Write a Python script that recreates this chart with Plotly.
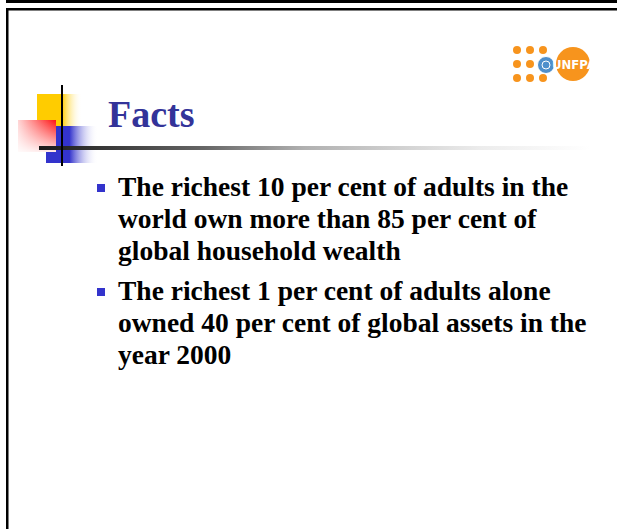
import plotly.graph_objects as go

W, H = 617, 529

# slide text
TITLE = "Facts"
BULLETS = [
    [
        "The richest 10 per cent of adults in the",
        "world own more than 85 per cent of",
        "global household wealth",
    ],
    [
        "The richest 1 per cent of adults alone",
        "owned 40 per cent of global assets in the",
        "year 2000",
    ],
]
# baseline of the first line of each bullet (px from top), line step
BULLET_TOPS = [194, 298]
LINE_STEP = 32

LOGO_TEXT = "UNFPA"

NAVY = "#333399"
BULLET_BLUE = "#3333CC"
ORANGE = "#F7941D"
SERIF = "Liberation Serif"
NARROW = "Liberation Sans Narrow, DejaVu Sans Condensed, Arial Narrow, Liberation Sans"


def rect_xy(x0, y0, x1, y1):
    return [x0, x1, x1, x0, x0], [y0, y0, y1, y1, y0]


def gradient_rect(fig, x0, y0, x1, y1, kind, scale):
    xs, ys = rect_xy(x0, y0, x1, y1)
    fig.add_scatter(
        x=xs,
        y=ys,
        mode="lines",
        line={"width": 0},
        fill="toself",
        fillgradient={"type": kind, "colorscale": scale},
        hoverinfo="skip",
        showlegend=False,
    )


fig = go.Figure()

# decorative squares next to the title
gradient_rect(
    fig, 37, 94, 82, 128, "horizontal",
    [[0, "#FFCC00"], [0.55, "#FFCC00"], [1, "rgba(255,255,255,0)"]],
)
gradient_rect(
    fig, 46, 126, 98, 163, "horizontal",
    [[0, BULLET_BLUE], [0.45, BULLET_BLUE], [1, "rgba(255,255,255,0)"]],
)
gradient_rect(
    fig, 18, 120, 56, 152, "horizontal",
    [[0, "#FFD6D6"], [1, "#FF1010"]],
)
gradient_rect(
    fig, 18, 120, 56, 152, "vertical",
    [[0, "rgba(255,255,255,0.9)"], [1, "rgba(255,255,255,0)"]],
)
# rule under the title
gradient_rect(
    fig, 39, 146, 590, 150, "horizontal",
    [[0, "#1a1a1a"], [0.3, "#666666"], [0.48, "#b0b0b0"], [0.8, "#ececec"], [1, "#ffffff"]],
)

shapes = [
    # slide frame
    {"type": "rect", "x0": 6, "x1": W, "y0": 0, "y1": 3},
    {"type": "rect", "x0": 6, "x1": W, "y0": 8, "y1": 10.5},
    {"type": "rect", "x0": 6, "x1": 8.5, "y0": 8, "y1": H},
    # vertical cross line
    {"type": "rect", "x0": 61, "x1": 63, "y0": 85, "y1": 166},
]
for s in shapes:
    s.update({"xref": "x", "yref": "y", "fillcolor": "#000000", "line": {"width": 0}})

# logo dots
dot_cols = [517, 530, 543]
dot_rows = [50, 64, 78]
for r, cy in enumerate(dot_rows):
    for c, cx in enumerate(dot_cols):
        if r == 1 and c == 2:
            continue
        shapes.append({
            "type": "circle", "xref": "x", "yref": "y",
            "x0": cx - 4, "x1": cx + 4, "y0": cy - 4, "y1": cy + 4,
            "fillcolor": ORANGE, "line": {"width": 0},
        })
shapes.append({
    "type": "circle", "xref": "x", "yref": "y",
    "x0": 556, "x1": 590, "y0": 47, "y1": 81,
    "fillcolor": ORANGE, "line": {"width": 0},
})
shapes.append({
    "type": "circle", "xref": "x", "yref": "y",
    "x0": 537.5, "x1": 554.5, "y0": 56.5, "y1": 73.5,
    "fillcolor": "#4F8FCB", "line": {"width": 1, "color": "#ffffff"},
})
shapes.append({
    "type": "circle", "xref": "x", "yref": "y",
    "x0": 542, "x1": 550, "y0": 61, "y1": 69,
    "fillcolor": "rgba(0,0,0,0)", "line": {"width": 1, "color": "#ffffff"},
})

# bullet squares
for top in BULLET_TOPS:
    shapes.append({
        "type": "rect", "xref": "x", "yref": "y",
        "x0": 97, "x1": 105, "y0": top - 10, "y1": top - 2,
        "fillcolor": BULLET_BLUE, "line": {"width": 0},
    })

annotations = [
    {
        "text": TITLE, "x": 106, "y": 114, "xanchor": "left", "yanchor": "middle",
        "font": {"family": SERIF, "size": 38, "color": NAVY, "weight": "bold"},
    },
    {
        "text": LOGO_TEXT, "x": 574, "y": 64.5, "xanchor": "center", "yanchor": "middle",
        "font": {"family": NARROW, "size": 13, "color": "#ffffff", "weight": "bold"},
    },
]
for top, lines in zip(BULLET_TOPS, BULLETS):
    for i, line in enumerate(lines):
        annotations.append({
            "text": line, "x": 116, "y": top + i * LINE_STEP - 8,
            "xanchor": "left", "yanchor": "middle",
            "font": {"family": SERIF, "size": 27.5, "color": "#000000", "weight": "bold"},
        })
for a in annotations:
    a.update({"xref": "x", "yref": "y", "showarrow": False})

fig.update_layout(
    width=W,
    height=H,
    autosize=False,
    margin={"l": 0, "r": 0, "t": 0, "b": 0},
    paper_bgcolor="#ffffff",
    plot_bgcolor="#ffffff",
    shapes=shapes,
    annotations=annotations,
    showlegend=False,
    xaxis={"range": [0, W], "visible": False, "fixedrange": True},
    yaxis={"range": [H, 0], "visible": False, "fixedrange": True},
)

fig.write_html(
    "out.html",
    config={"displayModeBar": False},
    post_script="document.body.style.margin = '0'; document.body.style.overflow = 'hidden';",
)
